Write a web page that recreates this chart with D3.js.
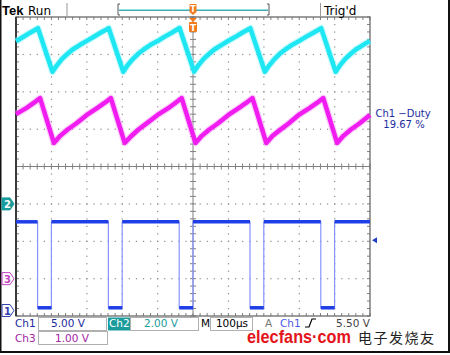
<!DOCTYPE html>
<html><head><meta charset="utf-8">
<script src="https://cdn.jsdelivr.net/npm/d3@7"></script>
<style>body{margin:0;background:#fff}svg{display:block}</style>
</head><body><svg id="c" width="450" height="355"></svg>
<script>
// ---------- data ----------
const timeDomain = [-500, 500];          // µs  (100 µs/div, 10 div)
const divDomain = [-4, 4];               // vertical divisions
const voltsPerDiv = {ch1: 5, ch2: 2, ch3: 1};
const groundDiv = {ch1: -3.8, ch2: -1, ch3: -3};

// Ch1 (blue) square wave edges, µs, and levels (V)
const ch1Fall = [-439, -239, -39, 161, 361];
const ch1Rise = [-400, -200, 0, 200, 400];
const ch1High = 11.6, ch1Low = 0.1;

// Ch2 (cyan) [t µs, V]
const ch2 = [[-500,8.70],[-480,8.93],[-460,9.16],[-438,9.40],
 [-397,7.07],[-385,7.40],[-370,7.76],[-355,8.02],[-340,8.26],[-320,8.50],[-300,8.72],[-280,8.94],[-260,9.17],[-238,9.40],
 [-197,7.07],[-185,7.42],[-170,7.75],[-155,8.03],[-140,8.25],[-120,8.51],[-100,8.71],[-80,8.95],[-60,9.16],[-38,9.41],
 [3,7.08],[15,7.41],[30,7.76],[45,8.02],[60,8.26],[80,8.50],[100,8.73],[120,8.94],[140,9.17],[162,9.40],
 [203,7.07],[215,7.40],[230,7.75],[245,8.03],[260,8.25],[280,8.51],[300,8.72],[320,8.95],[340,9.16],[362,9.40],
 [403,7.07],[415,7.41],[430,7.76],[445,8.02],[460,8.26],[480,8.50],[500,8.72]];

// Ch3 (magenta) [t µs, V]
const ch3 = [[-500,4.40],[-470,4.57],[-450,4.70],[-432,4.83],
 [-393,3.63],[-375,3.82],[-354,3.99],[-330,4.15],[-300,4.38],[-270,4.57],[-250,4.70],[-232,4.83],
 [-193,3.63],[-175,3.81],[-154,3.99],[-130,4.16],[-100,4.38],[-70,4.56],[-50,4.70],[-32,4.83],
 [7,3.63],[25,3.82],[46,3.99],[70,4.15],[100,4.38],[130,4.57],[150,4.70],[168,4.83],
 [207,3.63],[225,3.82],[246,3.98],[270,4.15],[300,4.39],[330,4.57],[350,4.70],[368,4.83],
 [407,3.63],[425,3.82],[446,3.99],[470,4.15],[500,4.38]];

const triggerArrowDiv = -1.97;  // position of the right-edge level arrow (divisions)
const dutyLabel = ["Ch1 \u2212Duty", "19.67 %"];
const headerLabels = {tek: "Tek", run: "Run", trig: "Trig'd"};
const footer = {ch1: "5.00 V", ch2: "2.00 V", ch3: "1.00 V", m: "100\u00b5s", trig: "5.50 V"};

// ---------- scales ----------
const svg = d3.select("#c");
const L = 16, R = 370, T = 17, B = 316;
const x = d3.scaleLinear().domain(timeDomain).range([L, R]);
const y = d3.scaleLinear().domain(divDomain).range([B, T]);
const yv = ch => v => y(v / voltsPerDiv[ch] + groundDiv[ch]);

// outer frame
svg.append("rect").attr("x",0.5).attr("y",-2).attr("width",448.5).attr("height",354).attr("fill","none").attr("stroke","#111").attr("stroke-width",2);

// ---------- grid ----------
const g = svg.append("g");
const dotCol = "#8a8a8a";
const minorT = d3.range(-500, 500.1, 20);
const minorD = d3.range(-4, 4.01, 0.2);
for (const t of d3.range(-400, 401, 100)) {
  if (t === 0) continue;
  g.selectAll(null).data(minorD.slice(1,-1)).enter().append("rect")
   .attr("x", x(t)-0.5).attr("y", d=>y(d)-0.5).attr("width",1.2).attr("height",1.2).attr("fill",dotCol);
}
for (const dv of d3.range(-3, 4, 1)) {
  if (dv === 0) continue;
  g.selectAll(null).data(minorT.slice(1,-1)).enter().append("rect")
   .attr("x", d=>x(d)-0.5).attr("y", y(dv)-0.5).attr("width",1.2).attr("height",1.2).attr("fill",dotCol);
}
g.append("line").attr("x1",L).attr("x2",R).attr("y1",y(0)).attr("y2",y(0)).attr("stroke","#808080").attr("stroke-width",1);
g.append("line").attr("x1",x(0)).attr("x2",x(0)).attr("y1",T).attr("y2",B).attr("stroke","#808080").attr("stroke-width",1);
g.selectAll(null).data(minorT).enter().append("line")
 .attr("x1",d=>x(d)).attr("x2",d=>x(d)).attr("y1",y(0)-3).attr("y2",y(0)+3).attr("stroke","#808080");
g.selectAll(null).data(minorD).enter().append("line")
 .attr("y1",d=>y(d)).attr("y2",d=>y(d)).attr("x1",x(0)-3).attr("x2",x(0)+3).attr("stroke","#808080");
g.selectAll(null).data(minorT).enter().append("line")
 .attr("x1",d=>x(d)).attr("x2",d=>x(d)).attr("y1",T).attr("y2",T+3).attr("stroke","#808080");
g.selectAll(null).data(minorT).enter().append("line")
 .attr("x1",d=>x(d)).attr("x2",d=>x(d)).attr("y1",B-3).attr("y2",B).attr("stroke","#808080");
g.selectAll(null).data(minorD).enter().append("line")
 .attr("y1",d=>y(d)).attr("y2",d=>y(d)).attr("x1",L).attr("x2",L+3).attr("stroke","#808080");
g.selectAll(null).data(minorD).enter().append("line")
 .attr("y1",d=>y(d)).attr("y2",d=>y(d)).attr("x1",R-3).attr("x2",R).attr("stroke","#808080");
g.append("rect").attr("x",L).attr("y",T).attr("width",R-L).attr("height",B-T).attr("fill","none").attr("stroke","#6a6a6a").attr("stroke-width",1.3);
g.append("line").attr("x1",L).attr("x2",L).attr("y1",T).attr("y2",B).attr("stroke","#3a3a3a").attr("stroke-width",2);

// ---------- traces ----------
const line = ch => d3.line().x(d=>x(d[0])).y(d=>yv(ch)(d[1]));
function trace(data, ch, col, halo) {
  svg.append("path").attr("d", line(ch)(data)).attr("fill","none").attr("stroke",halo).attr("stroke-width",7).attr("stroke-linejoin","round").attr("opacity",0.45);
  svg.append("path").attr("d", line(ch)(data)).attr("fill","none").attr("stroke",col).attr("stroke-width",4.5).attr("stroke-linejoin","round");
}
trace(ch2, "ch2", "#1ee6f2", "#8ef4fa");
trace(ch3, "ch3", "#f01cf0", "#f79af7");

const edges = [];
edges.push([timeDomain[0], ch1High]);
ch1Fall.forEach((f,i) => { edges.push([f, ch1High],[f, ch1Low],[ch1Rise[i], ch1Low],[ch1Rise[i], ch1High]); });
edges.push([timeDomain[1], ch1High]);
svg.append("path").attr("d", line("ch1")(edges)).attr("fill","none").attr("stroke","#8894ff").attr("stroke-width",1.2);
const highSegs = [[timeDomain[0], ch1Fall[0]]].concat(ch1Rise.map((r,i)=>[r, i+1<ch1Fall.length?ch1Fall[i+1]:timeDomain[1]]));
svg.selectAll(null).data(highSegs).enter().append("line")
  .attr("x1",d=>x(d[0])).attr("x2",d=>x(d[1])).attr("y1",yv("ch1")(ch1High)).attr("y2",yv("ch1")(ch1High))
  .attr("stroke","#1f3ee6").attr("stroke-width",3.5);
svg.selectAll(null).data(ch1Fall.map((f,i)=>[f, ch1Rise[i]])).enter().append("line")
  .attr("x1",d=>x(d[0])).attr("x2",d=>x(d[1])).attr("y1",yv("ch1")(ch1Low)).attr("y2",yv("ch1")(ch1Low))
  .attr("stroke","#1f3ee6").attr("stroke-width",3.5);

// ---------- channel markers ----------
function marker(ch, label, fill, stroke, txt, dy) {
  const cy = y(groundDiv[ch]) + (dy||0);
  svg.append("path").attr("d",`M2,${cy-6}H10L14,${cy}L10,${cy+6}H2Z`).attr("fill",fill).attr("stroke",stroke).attr("stroke-width",1);
  svg.append("text").attr("x",7.5).attr("y",cy+4).attr("text-anchor","middle").attr("font-family","DejaVu Sans").attr("font-size",10).attr("font-weight","bold").attr("fill",txt).text(label);
}
marker("ch2","2","#1a9c9c","#1a9c9c","#fff");
marker("ch3","3","#fff","#c040c0","#c040c0");
marker("ch1","1","#fff","#3040b0","#3040b0",2);
const ty = y(triggerArrowDiv);
svg.append("path").attr("d",`M372,${ty}L377,${ty-3}V${ty+3}Z`).attr("fill","#2040c0");

// ---------- header ----------
const tf = "DejaVu Sans";
svg.append("text").attr("x",2).attr("y",15).attr("font-family","Liberation Sans").attr("font-weight","bold").attr("font-size",13).attr("fill","#000").text(headerLabels.tek);
svg.append("text").attr("x",28).attr("y",14.5).attr("font-family",tf).attr("font-size",12).attr("fill","#000").text(headerLabels.run);
svg.append("line").attr("x1",67).attr("x2",67).attr("y1",3).attr("y2",16).attr("stroke","#999");
svg.append("line").attr("x1",320.5).attr("x2",320.5).attr("y1",3).attr("y2",16).attr("stroke","#999");
svg.append("text").attr("x",324).attr("y",14.5).attr("font-family",tf).attr("font-size",12).attr("fill","#000").text(headerLabels.trig);
svg.append("path").attr("d","M120,4H118V15H120").attr("fill","none").attr("stroke","#555");
svg.append("path").attr("d","M267,4H269V15H267").attr("fill","none").attr("stroke","#555");
svg.append("line").attr("x1",119).attr("x2",268).attr("y1",9.5).attr("y2",9.5).attr("stroke","#8fe0e6").attr("stroke-width",1);
svg.append("line").attr("x1",119).attr("x2",268).attr("y1",10.5).attr("y2",10.5).attr("stroke","#4aa8b0").attr("stroke-width",1);
const tx = x(0);
svg.append("path").attr("d",`M${tx-3.5},4H${tx+3.5}V12L${tx},15L${tx-3.5},12Z`).attr("fill","#f07a1c");
svg.append("text").attr("x",tx).attr("y",12).attr("text-anchor","middle").attr("font-family",tf).attr("font-size",8).attr("font-weight","bold").attr("fill","#fff").text("T");
svg.append("path").attr("d",`M${tx-4},18H${tx+4}L${tx},22Z`).attr("fill","#f07a1c");
svg.append("rect").attr("x",tx-4).attr("y",22).attr("width",8).attr("height",10).attr("rx",1).attr("fill","#f07a1c");
svg.append("text").attr("x",tx).attr("y",30.5).attr("text-anchor","middle").attr("font-family",tf).attr("font-size",9).attr("font-weight","bold").attr("fill","#fff").text("T");

// ---------- duty readout ----------
svg.append("text").attr("x",403).attr("y",117).attr("text-anchor","middle").attr("font-family",tf).attr("font-size",10).attr("fill","#1c2ca0").text(dutyLabel[0]);
svg.append("text").attr("x",404).attr("y",128).attr("text-anchor","middle").attr("font-family",tf).attr("font-size",10).attr("fill","#1c2ca0").text(dutyLabel[1]);

// ---------- footer ----------
const box = (x0,y0,w,h) => svg.append("rect").attr("x",x0+0.5).attr("y",y0+0.5).attr("width",w).attr("height",h).attr("fill","none").attr("stroke","#b0b0b0");
const ft = (x0,y0,s,col,anchor) => svg.append("text").attr("x",x0).attr("y",y0).attr("text-anchor",anchor||"start").attr("font-family",tf).attr("font-size",10.5).attr("fill",col).text(s);
box(38,317,68,13); box(38,331,69,13); box(130,317,68,13); box(210,317,42,13);
ft(15,327,"Ch1","#1c2c9c"); ft(68,327,footer.ch1,"#1c2c9c","middle");
svg.append("rect").attr("x",108).attr("y",317.5).attr("width",22).attr("height",13).attr("fill","#1a9c9c");
ft(109,327,"Ch2","#fff"); ft(161,327,footer.ch2,"#1a9c9c","middle");
ft(201,327,"M","#000"); ft(232,327,footer.m,"#000","middle");
ft(265,327,"A","#777"); ft(280,327,"Ch1","#4a5ce8");
svg.append("path").attr("d","M305,327H309L312,319H316").attr("fill","none").attr("stroke","#000").attr("stroke-width",1.2);
ft(370,327,footer.trig,"#444","end");
ft(15,341.5,"Ch3","#a424a4"); ft(72,341.5,footer.ch3,"#a424a4","middle");

// watermark
svg.append("text").attr("x",247).attr("y",343).attr("font-family","Liberation Sans").attr("font-weight","bold").attr("font-size",19).attr("fill","#e3131b")
  .attr("textLength",104).attr("lengthAdjust","spacingAndGlyphs").text("elecfans\u00b7com");
svg.append("text").attr("x",358).attr("y",343).attr("font-family","Noto Sans CJK SC").attr("font-size",14).attr("letter-spacing",1.5).attr("fill","#222").text("电子发烧友");
</script></body></html>
